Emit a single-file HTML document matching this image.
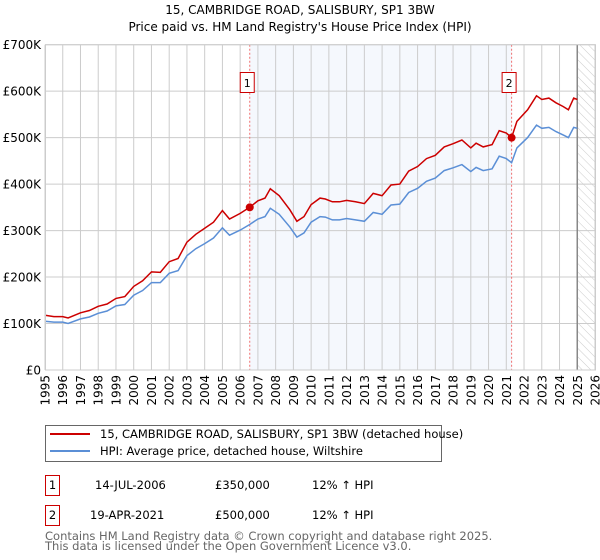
<!DOCTYPE html>
<html><head><meta charset="utf-8"><style>
body{margin:0;background:#fff;}
svg{display:block;font-family:"DejaVu Sans","Liberation Sans",sans-serif;}
</style></head><body>
<svg id="chart" width="600" height="560" viewBox="0 0 600 560" xmlns="http://www.w3.org/2000/svg">
<defs><pattern id="hatch" width="6" height="6" patternUnits="userSpaceOnUse" patternTransform="rotate(-45)"><line x1="0" y1="0" x2="0" y2="6" stroke="#ccc" stroke-width="1"/></pattern></defs>
<text x="300" y="14" text-anchor="middle" font-size="12" fill="#000">15, CAMBRIDGE ROAD, SALISBURY, SP1 3BW</text>
<text x="300" y="31" text-anchor="middle" font-size="12" fill="#000">Price paid vs. HM Land Registry's House Price Index (HPI)</text>
<g id="plot"></g>
<g>
<rect x="45.5" y="425.5" width="396" height="36" fill="#fff" stroke="#666"/>
<line x1="50" y1="434" x2="90" y2="434" stroke="#cc0000" stroke-width="2"/>
<text x="100" y="438" font-size="11.5">15, CAMBRIDGE ROAD, SALISBURY, SP1 3BW (detached house)</text>
<line x1="50" y1="451" x2="90" y2="451" stroke="#5b8fd6" stroke-width="2"/>
<text x="100" y="455" font-size="11.5">HPI: Average price, detached house, Wiltshire</text>
</g>
<g font-size="11.5">
<rect x="45.5" y="475.5" width="14" height="20" fill="#fff" stroke="#cc0000"/><text x="52.5" y="489" text-anchor="middle">1</text>
<text x="95" y="489">14-JUL-2006</text><text x="215" y="489">£350,000</text><text x="312" y="489">12% ↑ HPI</text>
<rect x="45.5" y="505.5" width="14" height="20" fill="#fff" stroke="#cc0000"/><text x="52.5" y="519" text-anchor="middle">2</text>
<text x="90" y="519">19-APR-2021</text><text x="215" y="519">£500,000</text><text x="312" y="519">12% ↑ HPI</text>
</g>
<text x="45" y="540" font-size="11.5" fill="#666">Contains HM Land Registry data © Crown copyright and database right 2025.</text>
<text x="45" y="550" font-size="11.5" fill="#666">This data is licensed under the Open Government Licence v3.0.</text>
</svg>
<script>
const years=[1995,1995.5,1996,1996.3,1997,1997.5,1998,1998.5,1999,1999.5,2000,2000.5,2001,2001.5,2002,2002.5,2003,2003.5,2004,2004.5,2005,2005.4,2006,2006.54,2007,2007.4,2007.7,2008.2,2008.8,2009.2,2009.6,2010,2010.5,2010.8,2011.2,2011.6,2012,2012.5,2013,2013.5,2014,2014.5,2015,2015.5,2016,2016.5,2017,2017.5,2018,2018.5,2019,2019.3,2019.7,2020.2,2020.6,2021,2021.3,2021.6,2022.2,2022.7,2023,2023.4,2023.8,2024.2,2024.5,2024.8,2025];
const priceK=[118,115,115,112,123,128,137,142,154,158,180,192,211,210,233,240,275,292,305,318,343,325,337,350,364,370,390,375,345,320,330,356,370,368,362,362,365,362,358,380,375,398,400,428,438,455,462,480,487,495,478,488,480,485,515,510,500,535,560,590,582,585,575,567,560,585,582];
const hpiK=[105,103,103,100,110,114,122,127,138,141,161,171,188,188,208,214,246,261,272,284,306,290,301,313,325,330,348,335,308,286,295,318,330,329,323,323,326,323,320,339,335,355,357,382,391,406,413,429,435,442,427,436,429,433,460,455,446,478,500,527,520,522,513,506,500,522,520];
const yTicks=[0,100,200,300,400,500,600,700];
const yTickLabels=["£0","£100K","£200K","£300K","£400K","£500K","£600K","£700K"];
const xTicks=[1995,1996,1997,1998,1999,2000,2001,2002,2003,2004,2005,2006,2007,2008,2009,2010,2011,2012,2013,2014,2015,2016,2017,2018,2019,2020,2021,2022,2023,2024,2025,2026];
const saleYears=[2006.54,2021.3];
const saleValues=[350,500];
const saleLabels=["1","2"];
const L=45,R=595,T=44.7,B=370,X0=1995,X1=2026,YMAX=700;
const sx=v=>L+(v-X0)/(X1-X0)*(R-L);
const sy=v=>B-v/YMAX*(B-T);
const NS="http://www.w3.org/2000/svg";
const g=document.getElementById('plot');
function mk(tag,attrs){const e=document.createElementNS(NS,tag);for(const k in attrs)e.setAttribute(k,attrs[k]);g.appendChild(e);return e;}
let e;
e=mk('rect',{x:sx(saleYears[0]),y:T,width:sx(saleYears[1])-sx(saleYears[0]),height:B-T,fill:'#eef3fc',opacity:0.6});


e=mk('rect',{x:sx(2025),y:T,width:R-sx(2025),height:B-T,fill:'url(#hatch)'});


xTicks.forEach(t=>{
 const x=sx(t);
 e=mk('line',{x1:x,x2:x,y1:T,y2:B,stroke:'#ccc','stroke-width':1});
 
 
 e=mk('text',{x:0,y:0,'font-size':12,'text-anchor':'end',transform:`translate(${x+4.5},${B+5}) rotate(-90)`});
 e.textContent=t;
 
 
});
yTicks.forEach((t,i)=>{
 const y=sy(t);
 e=mk('line',{x1:L,x2:R,y1:y,y2:y,stroke:'#ccc','stroke-width':1});
 
 
 e=mk('text',{x:L-4,y:y+4.5,'font-size':12,'text-anchor':'end'});
 e.textContent=yTickLabels[i];
 
 
});
e=mk('line',{x1:sx(2025),x2:sx(2025),y1:T,y2:B,stroke:'#888','stroke-width':1.5});


saleYears.forEach((s,i)=>{
 e=mk('line',{x1:sx(s),x2:sx(s),y1:T,y2:B,stroke:'#f07070','stroke-width':1,'stroke-dasharray':'2,2'});
 
 
});
function path(vals){return vals.map((v,i)=>(i?'L':'M')+sx(years[i]).toFixed(1)+','+sy(v).toFixed(1)).join('');}
e=mk('path',{d:path(hpiK),fill:'none',stroke:'#5b8fd6','stroke-width':1.5});


e=mk('path',{d:path(priceK),fill:'none',stroke:'#cc0000','stroke-width':1.5});


saleYears.forEach((s,i)=>{
 e=mk('circle',{cx:sx(s),cy:sy(saleValues[i]),r:4,fill:'#cc0000'});
 
 
 const bx=sx(s)-9;
 e=mk('rect',{x:bx-0.5,y:72.5,width:14,height:20,fill:'#fff',stroke:'#cc0000'});
 
 
 e=mk('text',{x:bx+6.5,y:87,'font-size':11,'text-anchor':'middle'});
 e.textContent=saleLabels[i];
 
 
});
e=mk('rect',{x:L+0.5,y:T,width:R-L,height:B-T,fill:'none',stroke:'#ccc'});


</script>
</body></html>
